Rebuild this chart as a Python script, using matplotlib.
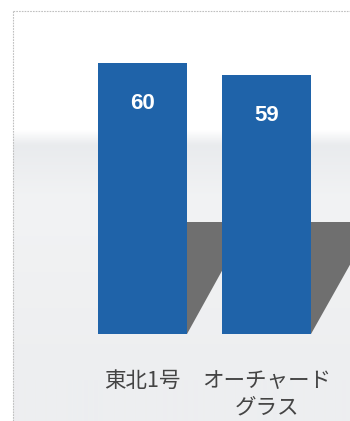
"""
Bar chart with drop shadows: 東北1号 vs オーチャードグラス
"""
import numpy as np
import matplotlib
matplotlib.use('Agg')
import matplotlib.pyplot as plt
from matplotlib.patches import Polygon

plt.rcParams['font.family'] = ['Noto Sans CJK JP', 'DejaVu Sans']

# data
categories = ['東北1号', 'オーチャード\nグラス']
values = [60, 59]
value_labels = ['60', '59']

# axis settings
y_base = 37.4          # value axis minimum (bars start here)
px_per_unit = 12.0     # vertical scale
shadow_height = 9.33   # shadow height in value units
shadow_reach = 0.5     # shadow reach in category units

W, H = 350, 421
base_px = 334          # baseline row in the picture
fig = plt.figure(figsize=(W / 100, H / 100), dpi=100)
fig.patch.set_facecolor('white')

# background layer in pixel coordinates
bg = fig.add_axes([0, 0, 1, 1], zorder=0)
bg.axis('off')

frame_x, frame_y, grad_top = 13, 11, 130
n = H - grad_top
grad = np.ones((n, 1, 3))
top_c = np.array([231, 233, 236]) / 255
mid_c = np.array([242, 243, 244]) / 255
end_c = np.array([237, 238, 240]) / 255
for i in range(n):
    if i < 70:
        t = i / 70
        grad[i, 0] = top_c * (1 - t) + mid_c * t
    else:
        t = min((i - 70) / 180, 1)
        grad[i, 0] = mid_c * (1 - t) + end_c * t
bg.imshow(grad, extent=(frame_x, W, H, grad_top), aspect='auto',
          interpolation='bilinear')
# soft edge between white and gray
fade = np.ones((16, 1, 4))
fade[:, 0, 3] = np.linspace(1, 0, 16)
bg.imshow(fade, extent=(frame_x, W, grad_top + 16, grad_top), aspect='auto',
          interpolation='bilinear')
bg.plot([frame_x, frame_x], [H, frame_y], color='#c0c0c0', lw=0.8,
        ls=(0, (1.5, 1)))
bg.plot([frame_x, W], [frame_y, frame_y], color='#c0c0c0', lw=0.8,
        ls=(0, (1.5, 1)))
bg.set_xlim(0, W)
bg.set_ylim(H, 0)

# chart layer: bottom edge on the baseline
ax = fig.add_axes([0, (H - base_px) / H, 1, base_px / H], zorder=1)
ax.patch.set_alpha(0)
x = np.arange(len(categories))
bar_w = 0.715
ax.set_xlim(-1.145, 1.667)
ax.set_ylim(y_base, y_base + base_px / px_per_unit)

for xi in x:
    right = xi + bar_w / 2
    tri = Polygon([(right, y_base), (right, y_base + shadow_height),
                   (right + shadow_reach, y_base + shadow_height)],
                  closed=True, facecolor='#6f6f6f', edgecolor='none', zorder=1)
    ax.add_patch(tri)

vals = np.array(values)
ax.bar(x, vals - y_base, bottom=y_base, width=bar_w, color='#1f63a9',
       zorder=2)

for xi, v, lab in zip(x, vals, value_labels):
    ax.text(xi, v - 3.4, lab, ha='center', va='center', color='white',
            fontsize=16, fontweight='bold', family=['Liberation Sans'],
            zorder=3)

ax.set_xticks(x)
ax.set_xticklabels(categories, fontsize=15.5, color='#444444',
                   linespacing=1.25, va='top')
ax.tick_params(axis='x', length=0, pad=26)
ax.set_yticks([])
for s in ax.spines.values():
    s.set_visible(False)

fig.savefig('out.png', dpi=100)
